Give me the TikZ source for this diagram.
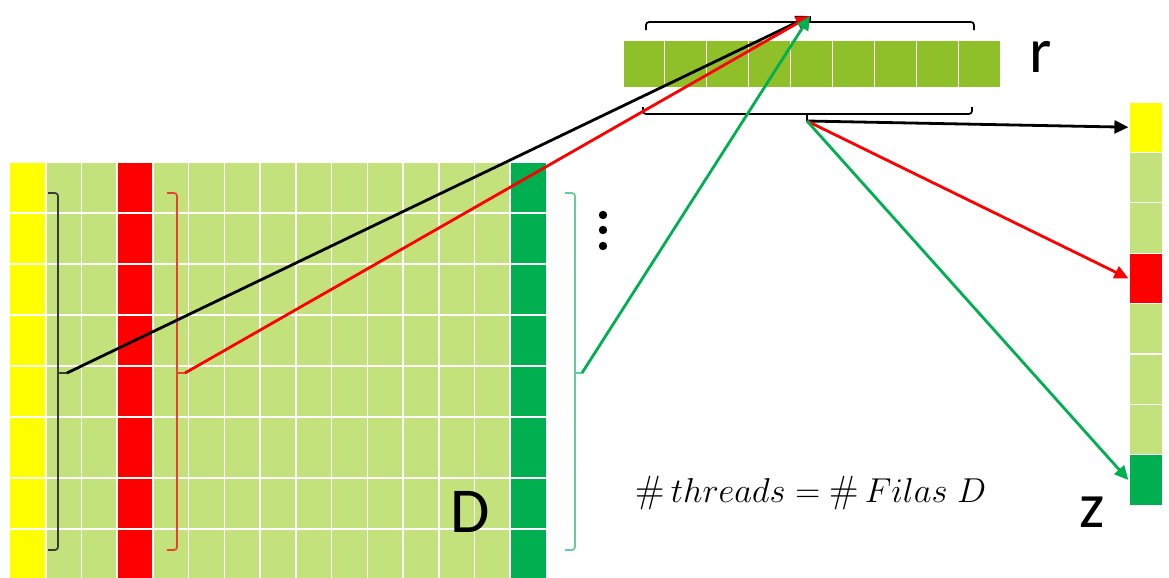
\documentclass[tikz,border=0pt]{standalone}
\usepackage{amsmath,amssymb}
\usepackage{fontspec}
\usepackage{xcolor}
\usepackage{tikz}
\usetikzlibrary{arrows.meta,positioning,calc}
\newfontfamily\lblfont{Carlito}
\definecolor{ylw}{HTML}{FFFF00}
\definecolor{lgr}{HTML}{C3E27B}
\definecolor{rgr}{HTML}{8FC02A}
\definecolor{dgr}{HTML}{00B050}
\definecolor{red}{HTML}{FF0000}
\definecolor{bblk}{HTML}{3A3A3A}
\definecolor{bred}{HTML}{E8412C}
\definecolor{bgrn}{HTML}{66CC99}
\tikzset{
  grid/.style ={draw=white, line width=0.8pt},
  brk/.style  ={line width=0.85pt, rounded corners=1.5pt},
  rcell/.style={rectangle, fill=rgr, draw=white, line width=0.6pt, minimum width=21pt, minimum height=24pt, inner sep=0pt},
  zcell/.style={rectangle, draw=white, line width=0.6pt, minimum width=17pt, minimum height=25.2pt, inner sep=0pt},
  lbl/.style  ={font=\lblfont\fontsize{32}{36}\selectfont, inner sep=0pt},
  ar/.style   ={-{Triangle[length=7pt,width=6.5pt]}, line width=1.4pt},
}
\begin{document}
\begin{tikzpicture}[x=0.5pt,y=-0.5pt]
\useasboundingbox (0,0) rectangle (1169,578);
% matriz D
\fill[lgr] (10,163) rectangle (546,578);
\fill[ylw] (10,163) rectangle (45.7,578);
\fill[red] (117.2,163) rectangle (152.9,578);
\fill[dgr] (510.3,163) rectangle (546,578);
\foreach \i in {1,...,14}{\draw[grid] ({10+35.73*\i},163) -- ({10+35.73*\i},578);}
\foreach \y in {213,264,315,366,417,478,529}{\draw[grid] (10,\y) -- (546,\y);}
\node[lbl] (dname) at (470,512) {D};
% llaves de las filas
\draw[brk, draw=bblk] (48,193) -- (58,193) -- (58,550) -- (48,550);
\draw[brk, draw=bblk] (58,373) -- (67,373) coordinate (tk);
\draw[brk, draw=bred] (167,193) -- (177,193) -- (177,550) -- (167,550);
\draw[brk, draw=bred] (177,373) -- (185,373) coordinate (tr);
\draw[brk, draw=bgrn] (565,193) -- (575,193) -- (575,550) -- (565,550);
\draw[brk, draw=bgrn] (575,373) -- (582,373) coordinate (tg);
\foreach \y in {215,230,246}{\fill (603,\y) circle (2.1pt);}
% vector r
\foreach \i in {0,...,8}{\node[rcell] (r\i) at ({623+41.9*(\i+0.5)},64) {};}
\node[lbl] (rname) at (1041,57) {r};
\draw[brk] (646,30) -- (646,22) -- (974,22) -- (974,30);
\draw[brk] (810,22) -- (810,16) coordinate (rin);
\draw[brk] (643,107) -- (643,114) -- (972,114) -- (972,107);
\draw[brk] (807,114) -- (807,121) coordinate (rout);
% vector z
\foreach \c [count=\i] in {ylw,lgr,lgr,red,lgr,lgr,lgr,dgr}
  {\node[zcell, fill=\c] (z\i) at (1146,{102+50.4*(\i-0.5)}) {};}
\node[lbl] (zname) at (1092,512) {z};
\node[font=\fontsize{19}{23}\selectfont] (eq) at (811,493) {$\#\,threads = \#\,Filas\;D$};
% flechas
\draw[ar] (tk) -- (rin);
\draw[ar, color=red] (tr) -- (rin);
\draw[ar, color=dgr] (tg) -- (rin);
\draw[ar] (rout) -- (z1.west);
\draw[ar, color=red] (rout) -- (z4.west);
\draw[ar, color=dgr] (rout) -- (z8.west);
\end{tikzpicture}
\end{document}
